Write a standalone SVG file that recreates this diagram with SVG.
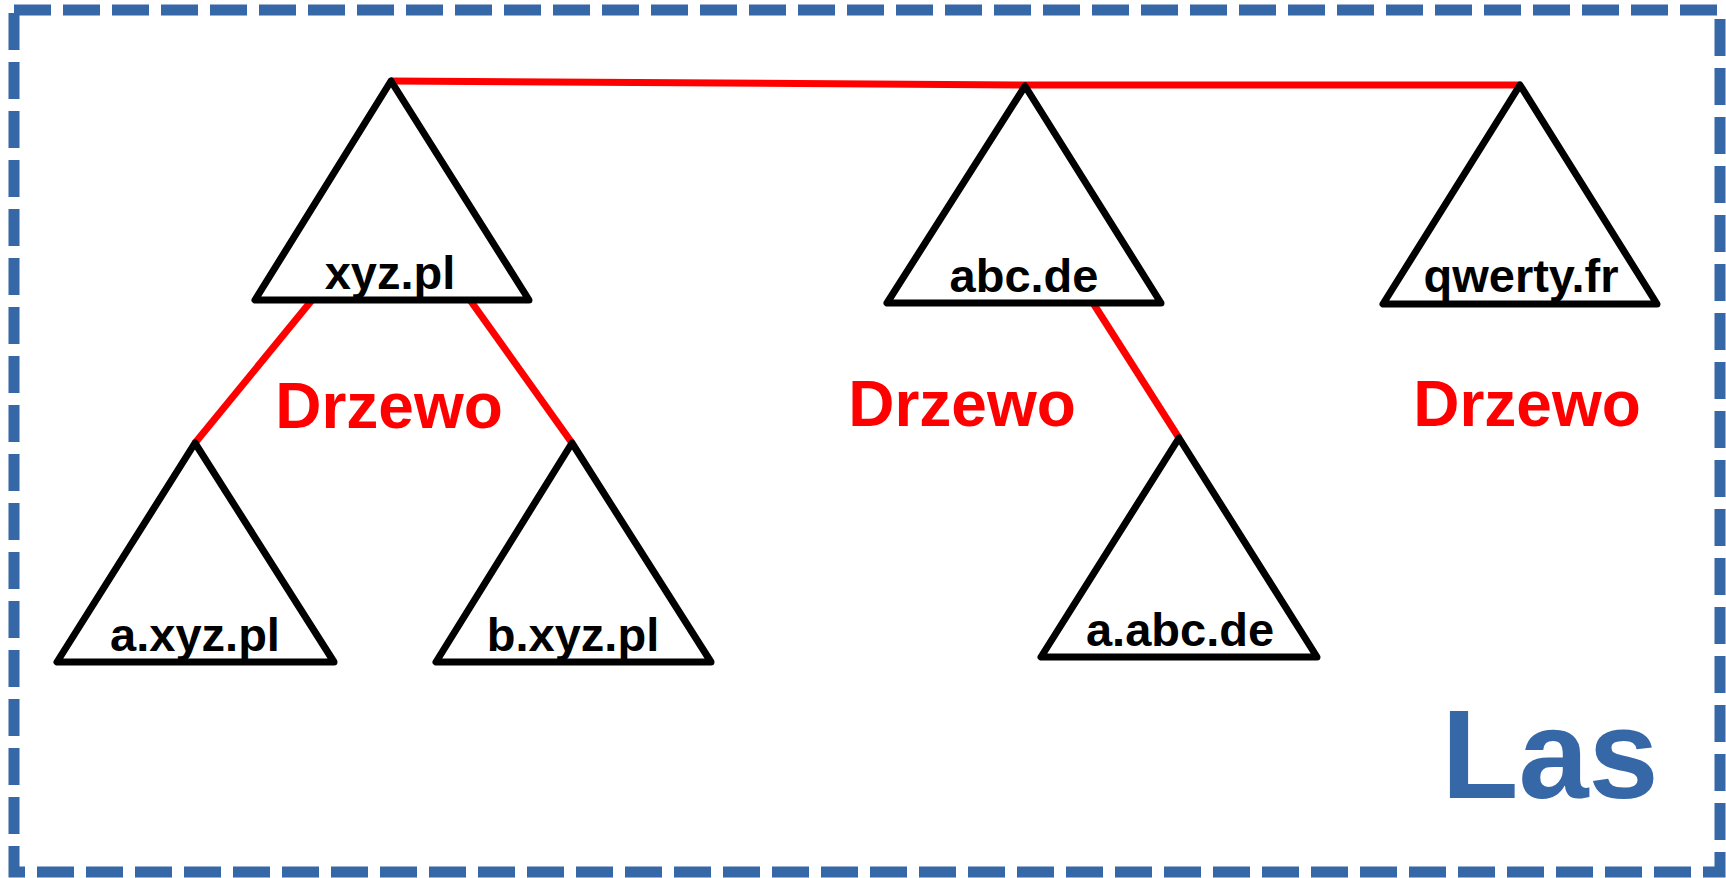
<svg xmlns="http://www.w3.org/2000/svg" width="1726" height="878" viewBox="0 0 1726 878">
<style>
.tri{fill:none;stroke:#000;stroke-width:7;stroke-linejoin:round}
.con{fill:none;stroke:#ff0000;stroke-width:7}
.lbl{font-family:"Liberation Sans",Arial,sans-serif;font-weight:bold;font-size:47px;fill:#000;text-anchor:middle}
.tree{font-family:"Liberation Sans",Arial,sans-serif;font-weight:bold;font-size:64px;fill:#ff0000;text-anchor:middle}
</style>
<rect width="1726" height="878" fill="#fff"/>
<g id="forest">
<rect x="14" y="10" width="1706" height="862" fill="none" stroke="#3667a6" stroke-width="11" stroke-dasharray="37 12"/>
<text x="1550" y="798" font-family="'Liberation Sans',Arial,sans-serif" font-weight="bold" font-size="126" fill="#3667a6" text-anchor="middle">Las</text>
</g>
<g id="connectors">
<polyline class="con" points="391,81 1025,85 1520,85"/>
<line class="con" x1="312" y1="300" x2="195" y2="443"/>
<line class="con" x1="470" y1="300" x2="572" y2="443"/>
<line class="con" x1="1093" y1="303" x2="1179" y2="438"/>
</g>
<g id="xyz.pl">
<polygon class="tri" points="391,81 255,300 529,300"/>
<text class="lbl" x="390" y="289">xyz.pl</text>
</g>
<g id="abc.de">
<polygon class="tri" points="1025,86 887,303 1161,303"/>
<text class="lbl" x="1024" y="292">abc.de</text>
</g>
<g id="qwerty.fr">
<polygon class="tri" points="1520,85 1383,304 1657,304"/>
<text class="lbl" x="1521" y="292">qwerty.fr</text>
</g>
<g id="a.xyz.pl">
<polygon class="tri" points="195,443 57,662 334,662"/>
<text class="lbl" x="195" y="651">a.xyz.pl</text>
</g>
<g id="b.xyz.pl">
<polygon class="tri" points="572,443 436,662 711,662"/>
<text class="lbl" x="573" y="651">b.xyz.pl</text>
</g>
<g id="a.abc.de">
<polygon class="tri" points="1179,438 1041,657 1317,657"/>
<text class="lbl" x="1180" y="646">a.abc.de</text>
</g>
<g id="tree-labels">
<text class="tree" x="389" y="428">Drzewo</text>
<text class="tree" x="962" y="426">Drzewo</text>
<text class="tree" x="1527" y="426">Drzewo</text>
</g>
</svg>
